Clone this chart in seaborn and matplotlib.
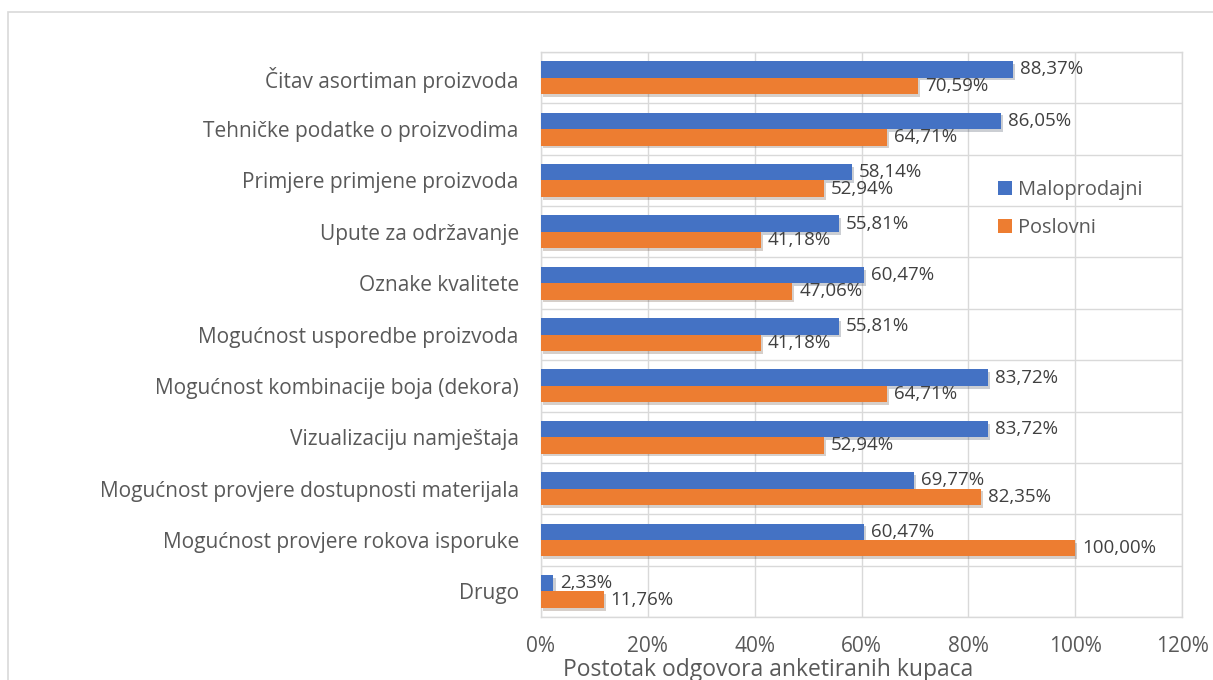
import pandas as pd
import matplotlib.pyplot as plt
import seaborn as sns
import matplotlib.patheffects as pe
from matplotlib.patches import Rectangle
from matplotlib.ticker import FixedLocator

# -----------------------------
# Data
# -----------------------------
categories = [
    "Čitav asortiman proizvoda",
    "Tehničke podatke o proizvodima",
    "Primjere primjene proizvoda",
    "Upute za održavanje",
    "Oznake kvalitete",
    "Mogućnost usporedbe proizvoda",
    "Mogućnost kombinacije boja (dekora)",
    "Vizualizaciju namještaja",
    "Mogućnost provjere dostupnosti materijala",
    "Mogućnost provjere rokova isporuke",
    "Drugo",
]
maloprodajni = [88.37, 86.05, 58.14, 55.81, 60.47, 55.81, 83.72, 83.72, 69.77, 60.47, 2.33]
poslovni = [70.59, 64.71, 52.94, 41.18, 47.06, 41.18, 64.71, 52.94, 82.35, 100.00, 11.76]
series_names = ["Maloprodajni", "Poslovni"]
x_ticks = [0, 0.2, 0.4, 0.6, 0.8, 1.0, 1.2]
x_tick_labels = ["0%", "20%", "40%", "60%", "80%", "100%", "120%"]

df = pd.DataFrame({
    "kategorija": categories * 2,
    "vrijednost": [v / 100 for v in maloprodajni + poslovni],
    "tip": [series_names[0]] * len(categories) + [series_names[1]] * len(categories),
})

# -----------------------------
# Plot
# -----------------------------
sns.set_theme(style="white")
plt.rcParams["font.family"] = ["Open Sans", "DejaVu Sans"]
text_col = "#595959"
grid_col = "#d9d9d9"

fig = plt.figure(figsize=(12.13, 6.8), dpi=100)
ax = fig.add_axes([0.446, 0.0926, 0.5285, 0.8309])

sns.barplot(
    data=df, x="vrijednost", y="kategorija", hue="tip",
    palette=["#4472C4", "#ED7D31"], orient="h", width=0.64,
    saturation=1, ax=ax, zorder=3, linewidth=0,
)

# soft shadow like the original
for cont in ax.containers:
    for bar in cont:
        bar.set_linewidth(0)
        bar.set_path_effects([pe.SimplePatchShadow(offset=(1.5, -2), alpha=0.22), pe.Normal()])

ax.set_xlim(0, 1.2)
ax.set_ylim(len(categories) - 0.5, -0.5)
ax.set_xticks(x_ticks)
ax.set_xticklabels(x_tick_labels)
ax.yaxis.set_minor_locator(FixedLocator([i - 0.5 for i in range(len(categories) + 1)]))
ax.grid(axis="x", which="major", color=grid_col, lw=1, zorder=0)
ax.grid(axis="y", which="minor", color=grid_col, lw=1, zorder=0)
ax.tick_params(axis="both", which="both", length=0, colors=text_col)
ax.tick_params(axis="x", pad=14, labelsize=15)
ax.tick_params(axis="y", pad=16, labelsize=15)
for s in ax.spines.values():
    s.set_color(grid_col)
    s.set_linewidth(1)

ax.set_ylabel("")
ax.set_xlabel("Postotak odgovora anketiranih kupaca", color=text_col, fontsize=16.5)
ax.xaxis.set_label_coords(0.355, -0.072)

# value labels
all_vals = [maloprodajni, poslovni]
for cont, vals in zip(ax.containers, all_vals):
    labels = [f"{v:.2f}%".replace(".", ",") for v in vals]
    ax.bar_label(cont, labels=labels, padding=5, color="#404040", fontsize=13.5)

leg = ax.legend(
    loc="upper left", bbox_to_anchor=(0.685, 0.806), frameon=False,
    fontsize=14.4, handlelength=0.7, handleheight=0.7, handletextpad=0.3,
    labelspacing=0.9,
)
for t in leg.get_texts():
    t.set_color(text_col)

# outer chart frame
fig.patches.append(Rectangle((8 / 1213, -0.05), 1.1, 1.05 - 12 / 680,
                             transform=fig.transFigure, fill=False,
                             edgecolor="#d9d9d9", lw=1.2))

fig.savefig("out.png", dpi=100)
